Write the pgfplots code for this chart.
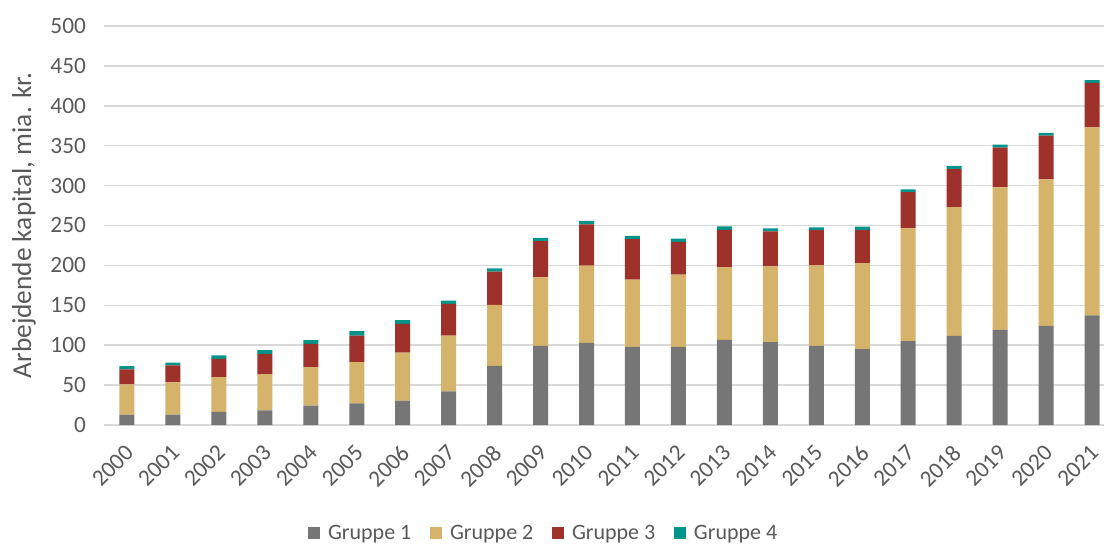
\documentclass[border=0pt]{standalone}
\usepackage{fontspec}
\setmainfont{Carlito}
\usepackage{pgfplots}
\pgfplotsset{compat=1.18}
\usepackage{pgfplotstable}
\definecolor{gA}{HTML}{767676}
\definecolor{gB}{HTML}{D6B36A}
\definecolor{gC}{HTML}{9E3129}
\definecolor{gD}{HTML}{00948A}
\definecolor{txt}{HTML}{595959}
\definecolor{gridc}{HTML}{D9D9D9}
\pgfplotstableread{
x g1 g2 g3 g4
0 12.9 37.9 18.8 4.2
1 12.9 40.4 21.3 3.7
2 16.3 43.7 22.9 4.2
3 18.3 45.4 25.5 4.5
4 24.2 48.3 29.2 4.6
5 27.1 51.6 33.4 5.4
6 30.4 60.4 35.9 4.6
7 42.1 70.0 39.6 4.1
8 74.2 76.2 41.7 4.2
9 99.2 85.8 45.4 4.2
10 102.9 96.7 51.7 4.5
11 97.9 84.2 50.8 4.2
12 97.9 90.4 41.3 4.0
13 106.7 90.8 47.1 4.2
14 103.8 95.0 43.8 3.8
15 99.2 100.8 44.2 3.3
16 95.0 107.9 41.3 4.5
17 105.0 141.5 45.2 3.5
18 111.7 161.2 47.9 3.8
19 119.2 178.7 49.6 3.7
20 124.2 183.7 54.6 3.7
21 137.5 235.4 55.8 3.4
}\data
\begin{document}
\begin{tikzpicture}
\path[use as bounding box] (0,0) rectangle (828pt,408pt);
\begin{axis}[
  at={(78pt,89.25pt)}, anchor=south west,
  scale only axis, width=750pt, height=299.25pt,
  ybar stacked, bar width=11.25pt,
  xmin=-0.5, xmax=21.26, ymin=0, ymax=500,
  ytick={0,50,...,500},
  xtick={0,...,21},
  xticklabels={2000,2001,2002,2003,2004,2005,2006,2007,2008,2009,2010,2011,2012,2013,2014,2015,2016,2017,2018,2019,2020,2021},
  axis line style={draw=none},
  major tick length=0pt,
  xmajorgrids=false,
  ymajorgrids=true, grid style={draw=gridc, line width=1.1pt},
  tick label style={font=\fontsize{17.5}{20}\selectfont, text=txt},
  /pgf/number format/assume math mode=true,
  yticklabel style={anchor=east, xshift=-10pt},
  xticklabel style={rotate=45, anchor=north east, xshift=-8pt, yshift=-4.8pt},
  ylabel={Arbejdende kapital, mia. kr.},
  ylabel style={at={(rel axis cs:-0.08,0.5)}, anchor=center, font=\fontsize{20.5}{24}\selectfont, text=txt},
  legend columns=4,
  legend style={at={(rel axis cs:0.44,-0.2707)}, anchor=center, draw=none, fill=none,
    font=\fontsize{16.5}{19}\selectfont, text=txt,
    /tikz/every even column/.append style={column sep=12pt}},
  legend image code/.code={\fill[#1] (0pt,-4.8pt) rectangle (9pt,4.8pt); \path (13pt,0pt);},
]
\addplot[fill=gA, draw=none] table[x=x,y=g1]{\data};
\addplot[fill=gB, draw=none] table[x=x,y=g2]{\data};
\addplot[fill=gC, draw=none] table[x=x,y=g3]{\data};
\addplot[fill=gD, draw=none] table[x=x,y=g4]{\data};
\legend{Gruppe 1,Gruppe 2,Gruppe 3,Gruppe 4}
\end{axis}
\end{tikzpicture}
\end{document}
